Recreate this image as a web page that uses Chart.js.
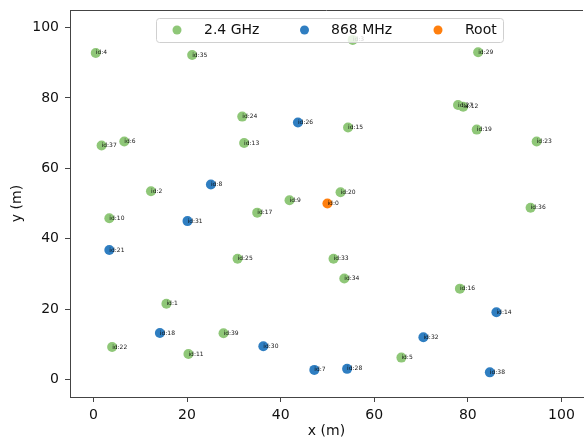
<!DOCTYPE html>
<html>
<head>
<meta charset="utf-8">
<script src="https://cdn.jsdelivr.net/npm/chart.js@4"></script>
<style>
html,body{margin:0;padding:0;background:#fff;}
#wrap{width:588px;height:440px;}
</style>
</head>
<body>
<div id="wrap"><canvas id="c" width="588" height="440"></canvas></div>
<script>
// ---- data ----
const seriesLabels = ["2.4 GHz", "868 MHz", "Root"];

const ghzIds = [1, 2, 3, 4, 5, 6, 9, 10, 11, 12, 13, 15, 16, 17, 19, 20, 22, 23, 24, 25, 27, 29, 33, 34, 35, 36, 37, 39];
const ghzX   = [15.6, 12.3, 55.4, 0.5, 65.8, 6.6, 41.9, 3.4, 20.3, 79.0, 32.2, 54.4, 78.3, 35.0, 81.9, 52.8, 4.0, 94.7, 31.8, 30.8, 77.9, 82.2, 51.3, 53.6, 21.1, 93.4, 1.75, 27.8];
const ghzY   = [21.5, 53.5, 96.5, 92.8, 6.2, 67.6, 50.9, 45.8, 7.2, 77.5, 67.2, 71.6, 25.8, 47.4, 71.0, 53.2, 9.2, 67.6, 74.7, 34.3, 78.0, 93.0, 34.3, 28.7, 92.2, 48.8, 66.5, 13.1];

const mhzIds = [7, 8, 14, 18, 21, 26, 28, 30, 31, 32, 38];
const mhzX   = [47.2, 25.1, 86.1, 14.2, 3.4, 43.7, 54.2, 36.3, 20.1, 70.5, 84.7];
const mhzY   = [2.7, 55.4, 19.1, 13.2, 36.8, 73.0, 3.0, 9.4, 45.0, 12.0, 2.0];

const rootIds = [0];
const rootX   = [50.0];
const rootY   = [50.0];

const xTicks = [0, 20, 40, 60, 80, 100];
const yTicks = [0, 20, 40, 60, 80, 100];

// ---- styles ----
const colors = ["rgb(143,199,120)", "rgb(47,126,193)", "rgb(255,127,14)"];
const spine = "#444";
const FONT = "'DejaVu Sans', sans-serif";

function pts(xs, ys) { return xs.map((x, i) => ({x: x, y: ys[i]})); }
const idLists = [ghzIds, mhzIds, rootIds];

const labelsPlugin = {
  id: 'labelsAndLegend',
  afterDatasetsDraw(chart) {
    const ctx = chart.ctx;
    ctx.save();
    // point annotations
    ctx.font = "6px " + FONT;
    ctx.textAlign = "left";
    ctx.textBaseline = "middle";
    ctx.fillStyle = "rgba(10,10,10,0.95)";
    chart.data.datasets.forEach((ds, di) => {
      const meta = chart.getDatasetMeta(di);
      meta.data.forEach((el, i) => {
        ctx.fillText("id:" + idLists[di][i], el.x, el.y);
      });
    });
    // top spine
    const a = chart.chartArea;
    ctx.strokeStyle = spine;
    ctx.lineWidth = 1;
    ctx.beginPath();
    ctx.moveTo(a.left, a.top + 0.5);
    ctx.lineTo(a.right, a.top + 0.5);
    ctx.stroke();
    // legend
    const bx = 156.5, by = 18.5, bw = 347, bh = 24, r = 3;
    ctx.beginPath();
    ctx.moveTo(bx + r, by);
    ctx.lineTo(bx + bw - r, by);
    ctx.quadraticCurveTo(bx + bw, by, bx + bw, by + r);
    ctx.lineTo(bx + bw, by + bh - r);
    ctx.quadraticCurveTo(bx + bw, by + bh, bx + bw - r, by + bh);
    ctx.lineTo(bx + r, by + bh);
    ctx.quadraticCurveTo(bx, by + bh, bx, by + bh - r);
    ctx.lineTo(bx, by + r);
    ctx.quadraticCurveTo(bx, by, bx + r, by);
    ctx.closePath();
    ctx.fillStyle = "rgba(255,255,255,0.8)";
    ctx.fill();
    ctx.strokeStyle = "#d0d0d0";
    ctx.stroke();
    const markX = [177, 304.5, 438];
    const textX = [204, 331, 465];
    const cy = 30;
    ctx.font = "14px " + FONT;
    ctx.textBaseline = "middle";
    seriesLabels.forEach((lab, i) => {
      ctx.fillStyle = colors[i];
      ctx.beginPath();
      ctx.arc(markX[i], cy, 4.5, 0, Math.PI * 2);
      ctx.fill();
      ctx.fillStyle = "#111";
      ctx.fillText(lab, textX[i], cy);
    });
    ctx.restore();
  }
};

const ds = [
  {label: seriesLabels[0], data: pts(ghzX, ghzY), backgroundColor: colors[0]},
  {label: seriesLabels[1], data: pts(mhzX, mhzY), backgroundColor: colors[1]},
  {label: seriesLabels[2], data: pts(rootX, rootY), backgroundColor: colors[2]}
].map(d => Object.assign(d, {pointRadius: 5, pointHoverRadius: 5, borderWidth: 0, borderColor: d.backgroundColor}));

new Chart(document.getElementById('c'), {
  type: 'scatter',
  data: {datasets: ds},
  plugins: [labelsPlugin],
  options: {
    responsive: false,
    animation: false,
    devicePixelRatio: 1,
    layout: {padding: {top: 10, right: 0, left: 0, bottom: 0}},
    plugins: {legend: {display: false}, tooltip: {enabled: false}},
    scales: {
      x: {
        type: 'linear',
        min: -5,
        max: 104.6,
        afterBuildTicks: s => { s.ticks = xTicks.map(v => ({value: v})); },
        afterFit: s => { s.height = 43; s.paddingLeft = 0; s.paddingRight = 0; },
        grid: {display: true, drawOnChartArea: false, drawTicks: true, tickLength: 5, color: spine},
        border: {display: true, color: spine, width: 1},
        ticks: {font: {family: FONT, size: 14}, color: '#111', padding: 5, maxRotation: 0},
        title: {display: true, text: 'x (m)', font: {family: FONT, size: 14}, color: '#111', padding: {top: 0, bottom: 0}}
      },
      y: {
        type: 'linear',
        min: -5,
        max: 105,
        afterBuildTicks: s => { s.ticks = yTicks.map(v => ({value: v})); },
        afterFit: s => { s.width = 70; s.paddingTop = 0; s.paddingBottom = 0; },
        grid: {display: true, drawOnChartArea: false, drawTicks: true, tickLength: 5, color: spine},
        border: {display: true, color: spine, width: 1},
        ticks: {font: {family: FONT, size: 14}, color: '#111', padding: 6},
        title: {display: true, text: 'y (m)', font: {family: FONT, size: 14}, color: '#111', padding: {top: 9, bottom: 0}}
      }
    }
  }
});
</script>
</body>
</html>
